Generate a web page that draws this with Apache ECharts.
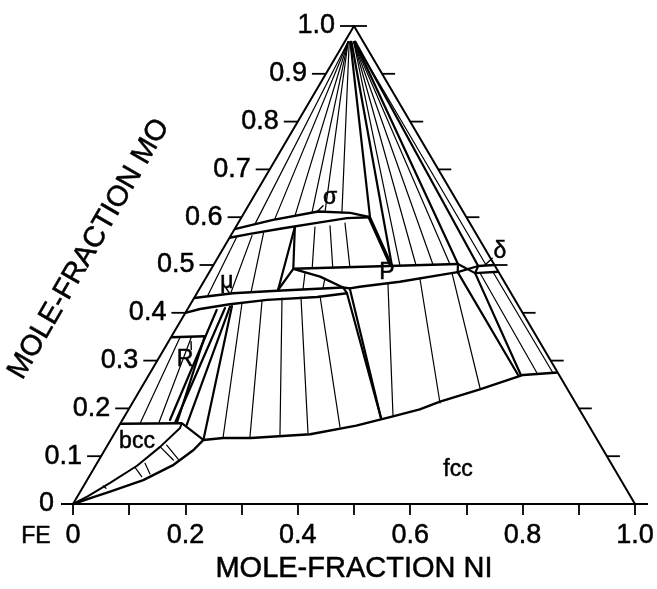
<!DOCTYPE html>
<html><head><meta charset="utf-8">
<script src="https://cdn.jsdelivr.net/npm/echarts/dist/echarts.min.js"></script>
<style>html,body{margin:0;padding:0;background:#fff}#c{width:657px;height:589px}</style>
</head><body><div id="c"></div>
<script>
// ---- Axis values ----
const niTicks = [0,0.1,0.2,0.3,0.4,0.5,0.6,0.7,0.8,0.9,1.0];
const niLabels = ['0','','0.2','','0.4','','0.6','','0.8','','1.0'];
const moTicks = [0,0.1,0.2,0.3,0.4,0.5,0.6,0.7,0.8,0.9,1.0];
const moLabels = ['0','0.1','0.2','0.3','0.4','0.5','0.6','0.7','0.8','0.9','1.0'];

// ---- Phase boundaries, as [xNi, xMo] compositions ----
const triangleEdges = [[0,0],[0,1],[1,0]];
const bccTop = [[0,0.168],[0.109,0.169]];
const bccBoundary = [[0.109,0.169],[0.111,0.159],[0.095,0.119],[0.074,0.080],[0.044,0.044],[0.018,0.016],[0,0]];
const fccBoundary = [[0,0],[0.028,0.014],[0.053,0.026],[0.100,0.050],[0.138,0.082],[0.158,0.113],[0.165,0.134],[0.198,0.138],[0.248,0.138],[0.349,0.146],[0.422,0.164],[0.479,0.184],[0.518,0.198],[0.546,0.214],[0.604,0.240],[0.666,0.270],[0.725,0.275]];
const muUpper = [[0,0.431],[0.064,0.441],[0.140,0.446],[0.254,0.453]];
const muLower = [[0,0.400],[0.022,0.408],[0.070,0.418],[0.132,0.427],[0.218,0.433],[0.267,0.441]];
const sigmaUpper = [[0,0.575],[0.057,0.594],[0.130,0.612],[0.189,0.609],[0.2285,0.600]];
const sigmaLower = [[0,0.557],[0.0325,0.565],[0.0855,0.577],[0.140,0.588],[0.1885,0.598],[0.2285,0.600]];
const pUpper = [[0.146,0.492],[0.434,0.502]];
const pLower = [[0.146,0.492],[0.202,0.4755],[0.254,0.453],[0.267,0.451],[0.283,0.4546],[0.349,0.465],[0.4295,0.4826],[0.442,0.485]];
const deltaUpper = [[0.472,0.498],[0.500,0.500]];
const deltaLower = [[0.474,0.483],[0.514,0.486]];
const rPhase = [[0,0.349],[0.059,0.351]];

// ---- Tie lines [xNi1, xMo1, xNi2, xMo2] ----
const tieLines = [
  // bcc + fcc
  [0.105,0.1234,0.1407,0.0935],[0.0948,0.120,0.1325,0.092],[0.072,0.0768,0.0937,0.0571],
  [0.0856,0.0851,0.1056,0.0628],[0.035,0.0377,0.0423,0.0328],
  // bcc + R
  [0.035,0.169,0.016,0.349],[0.068,0.169,0.036,0.349],
  // Mo(bcc) + sigma fan
  [0.006,0.967,0.031,0.586],[0.006,0.967,0.061,0.596],[0.006,0.967,0.093,0.605],
  [0.006,0.967,0.120,0.611],[0.006,0.967,0.143,0.611],[0.008,0.967,0.174,0.609],
  // Mo(bcc) + P fan
  [0.016,0.967,0.3326,0.4985],[0.016,0.967,0.3606,0.4995],[0.016,0.967,0.3904,0.5005],[0.016,0.967,0.420,0.5015],
  // Mo(bcc) + delta
  [0.018,0.967,0.486,0.499],
  // sigma + mu
  [0.0378,0.5615,0.0599,0.4425],[0.0556,0.567,0.0948,0.4446],[0.012,0.560,0.022,0.434],
  // sigma + P
  [0.1408,0.5795,0.179,0.4932],[0.1663,0.582,0.2136,0.497],[0.190,0.5879,0.2429,0.499],
  // mu + P
  [0.171,0.4837,0.1844,0.4498],[0.2125,0.4718,0.2189,0.4519],
  // mu + fcc
  [0.0905,0.4205,0.1979,0.138],[0.124,0.4247,0.2448,0.1402],[0.1564,0.431,0.2961,0.1444],
  [0.1891,0.4331,0.3439,0.1485],[0.222,0.4351,0.3945,0.1611],
  // P + fcc
  [0.3303,0.4603,0.4774,0.1841],[0.3821,0.4707,0.5474,0.2113],[0.4327,0.4833,0.6029,0.2427],
  // delta + fcc
  [0.4826,0.4833,0.6886,0.274],[0.5046,0.4854,0.7171,0.274]
];

// ---- Three-phase triangle edges [xNi1, xMo1, xNi2, xMo2] ----
const threePhase = [
  [0.109,0.169,0.165,0.134],
  [0.0847,0.1757,0.0527,0.4059],[0.0967,0.1695,0.0655,0.410],[0.1197,0.1653,0.073,0.4128],[0.165,0.134,0.0758,0.4142],
  [0.059,0.351,0.100,0.170],
  [0.105,0.5795,0.146,0.492],[0.105,0.5795,0.141,0.4477],[0.146,0.492,0.141,0.4477],
  [0.2285,0.600,0.3186,0.498],[0.2250,0.601,0.3150,0.499],
  [0.010,0.967,0.2285,0.600],[0.012,0.967,0.3186,0.498],
  [0.254,0.453,0.267,0.441],
  [0.267,0.441,0.458,0.180],[0.267,0.451,0.458,0.180],
  [0.434,0.502,0.442,0.485],[0.472,0.498,0.474,0.483],
  [0.434,0.502,0.474,0.483],[0.442,0.485,0.472,0.498],
  [0.442,0.485,0.657,0.270],[0.474,0.483,0.662,0.270],
  [0.018,0.967,0.434,0.502],[0.019,0.967,0.472,0.498]
];

// ---- Phase labels [xNi, xMo] and texts ----
const phaseLabelPos = [[0.049,0.1297],[0.6495,0.0711],[0.1373,0.640],[0.0418,0.4644],[0.0487,0.3013],[0.317,0.4833],[0.4963,0.527]];
const phaseLabelText = ['bcc','fcc','σ','μ','R','P','δ'];
const pointerLines = [
  [0.133,0.624,0.128,0.610],[0.046,0.452,0.056,0.443],[0.049,0.323,0.040,0.340],[0.489,0.514,0.483,0.500]
];

// ---- helpers ----
const toXY = p => [p[0] + p[1] / 2, p[1]];
const FONT = '"Liberation Sans", Arial, Helvetica, sans-serif';
const TXT = { fill: '#000', stroke: '#000', lineWidth: 0.5 };

function segSeries(segs, w) {
  return {
    type: 'custom', coordinateSystem: 'cartesian2d', silent: true, animation: false, clip: false,
    data: segs.map(s => [...toXY([s[0], s[1]]), ...toXY([s[2], s[3]])]),
    encode: { x: [0, 2], y: [1, 3] },
    renderItem: (params, api) => {
      const a = api.coord([api.value(0), api.value(1)]);
      const b = api.coord([api.value(2), api.value(3)]);
      return { type: 'line', shape: { x1: a[0], y1: a[1], x2: b[0], y2: b[1] },
               style: { stroke: '#000', lineWidth: w, lineCap: 'round' } };
    }
  };
}
function polySeries(pts, w) {
  return { type: 'line', data: pts.map(toXY), showSymbol: false, symbol: 'none', silent: true,
           animation: false, clip: false, lineStyle: { color: '#000', width: w, join: 'round' } };
}

const chart = echarts.init(document.getElementById('c'), null, { renderer: 'canvas' });
const series = [
  polySeries(triangleEdges, 2),
  polySeries(bccTop, 2.4), polySeries(bccBoundary, 2), polySeries(fccBoundary, 2.4),
  polySeries(muUpper, 2.4), polySeries(muLower, 2.4),
  polySeries(sigmaUpper, 2.4), polySeries(sigmaLower, 2.4),
  polySeries(pUpper, 2.4), polySeries(pLower, 2.4),
  polySeries(deltaUpper, 2.4), polySeries(deltaLower, 2.4),
  polySeries(rPhase, 2.6),
  segSeries(tieLines, 1.2),
  segSeries(threePhase, 2.2),
  segSeries(pointerLines, 1.4),
  // Mo axis ticks & labels along the slanted edges
  {
    type: 'custom', coordinateSystem: 'cartesian2d', silent: true, animation: false, clip: false,
    data: moTicks.map(v => [v / 2, v]),
    renderItem: (params, api) => {
      const v = moTicks[params.dataIndex];
      const pL = api.coord([v / 2, v]);
      const pR = api.coord([1 - v / 2, v]);
      const ch = [];
      if (v === 0) {
        ch.push({ type: 'line', shape: { x1: pL[0] - 12, y1: pL[1], x2: pR[0] + 13, y2: pR[1] }, style: { stroke: '#000', lineWidth: 2.2 } });
      } else {
        ch.push({ type: 'line', shape: { x1: pL[0] - 14, y1: pL[1], x2: pL[0], y2: pL[1] }, style: { stroke: '#000', lineWidth: 1.8 } });
        ch.push({ type: 'line', shape: { x1: pR[0], y1: pR[1], x2: pR[0] + 13, y2: pR[1] }, style: { stroke: '#000', lineWidth: 1.8 } });
      }
      ch.push({ type: 'text', x: pL[0] - 19, y: pL[1], style: Object.assign({ text: moLabels[params.dataIndex], align: 'right', verticalAlign: 'middle', font: '27px ' + FONT }, TXT) });
      return { type: 'group', children: ch };
    }
  },
  // Phase labels
  {
    type: 'custom', coordinateSystem: 'cartesian2d', silent: true, animation: false, clip: false,
    data: phaseLabelPos.map(toXY),
    renderItem: (params, api) => {
      const p = api.coord([api.value(0), api.value(1)]);
      return { type: 'text', x: p[0], y: p[1], style: Object.assign({ text: phaseLabelText[params.dataIndex], align: 'center', verticalAlign: 'middle', font: '23px ' + FONT }, TXT) };
    }
  }
];

chart.setOption({
  backgroundColor: '#fff',
  animation: false,
  grid: { left: 73, top: 26, width: 562, height: 478 },
  xAxis: {
    type: 'value', min: 0, max: 1, interval: 0.1,
    name: 'MOLE-FRACTION NI', nameLocation: 'middle', nameGap: 50,
    nameTextStyle: { fontSize: 29, color: '#000', fontFamily: FONT, textBorderColor: '#000', textBorderWidth: 0.5 },
    axisLine: { show: false },
    axisTick: { show: true, length: 11, inside: false, lineStyle: { color: '#000', width: 1.8 } },
    axisLabel: { show: true, margin: 18, fontSize: 27, color: '#000', fontFamily: FONT,
                 textBorderColor: '#000', textBorderWidth: 0.5,
                 formatter: (v) => niLabels[Math.round(v * 10)] },
    splitLine: { show: false }
  },
  yAxis: { type: 'value', min: 0, max: 1, show: false, splitLine: { show: false } },
  graphic: [
    { type: 'text', x: 89, y: 249, rotation: Math.PI / 3, style: Object.assign({ text: 'MOLE-FRACTION MO', align: 'center', verticalAlign: 'middle', font: '29px ' + FONT }, TXT) },
    { type: 'text', x: 36, y: 537, style: Object.assign({ text: 'FE', align: 'center', verticalAlign: 'middle', font: '23px ' + FONT }, TXT) }
  ],
  series: series
});
</script></body></html>
